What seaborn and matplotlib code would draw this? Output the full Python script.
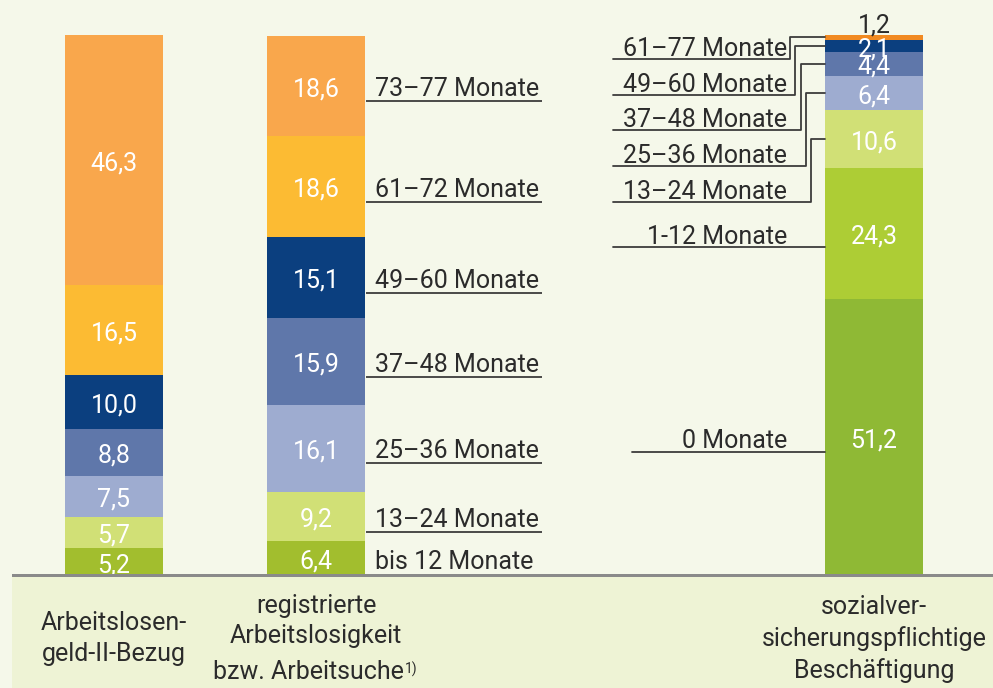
import matplotlib.pyplot as plt
import seaborn as sns
from matplotlib.patches import Rectangle

sns.set_theme(style='white')
plt.rcParams['font.family'] = ['Roboto', 'DejaVu Sans']

# Anteile in Prozent, jeweils von unten nach oben
alg2_values = [5.2, 5.7, 7.5, 8.8, 10.0, 16.5, 46.3]
arbeitslos_values = [6.4, 9.2, 16.1, 15.9, 15.1, 18.6, 18.6]
arbeitslos_labels = ['bis 12 Monate', '13–24 Monate', '25–36 Monate', '37–48 Monate',
                     '49–60 Monate', '61–72 Monate', '73–77 Monate']
beschaeftigung_values = [51.2, 24.3, 10.6, 6.4, 4.4, 2.1, 1.2]
beschaeftigung_labels = ['0 Monate', '1-12 Monate', '13–24 Monate', '25–36 Monate',
                         '37–48 Monate', '49–60 Monate', '61–77 Monate']

colors_main = ['#a2be2e', '#d1e076', '#9eacd0', '#5f77aa', '#0b3f7f', '#fcbb33', '#f9a74c']
colors_besch = ['#8fb935', '#adcd35', '#d1e076', '#9eacd0', '#5f77aa', '#0b3f7f', '#f18a22']

bg = '#f5f8ea'
text_col = '#2b2b2b'
line_col = '#3c3c3c'

fig = plt.figure(figsize=(9.93, 6.88), dpi=100, facecolor=bg)
ax = fig.add_axes([0, 112 / 688, 1, 541 / 688])
ax.set_facecolor('none')

bar_x = [114, 316, 874]
bar_w = 98
dy = -0.6  # small downward nudge for text

# Stacked bars
all_values = [alg2_values, arbeitslos_values, beschaeftigung_values]
all_colors = [colors_main, colors_main, colors_besch]
mids = []
for xc, vals, cols in zip(bar_x, all_values, all_colors):
    bottom = 0
    m = []
    for v, c in zip(vals, cols):
        sns.barplot(x=[xc], y=[v], bottom=bottom, color=c, width=bar_w, native_scale=True,
                    saturation=1, linewidth=0, errorbar=None, ax=ax)
        m.append(bottom + v / 2)
        bottom += v
    mids.append(m)

# Value labels
for xc, vals, m in zip(bar_x, all_values, mids):
    for v, y in zip(vals, m):
        ax.text(xc, y + dy, f'{v:.1f}'.replace('.', ','), color='white', fontsize=18,
                ha='center', va='center')
# 1,2 sits above the last bar in black
ax.texts[-1].remove()
ax.text(bar_x[2], sum(beschaeftigung_values) + 0.3, '1,2', color=text_col, fontsize=18,
        ha='center', va='baseline')

# Labels right of the second bar
for i, (lab, y) in enumerate(zip(arbeitslos_labels, mids[1])):
    ax.text(375, y + dy, lab, color=text_col, fontsize=18, ha='left', va='center')
    if i > 0:
        ax.plot([bar_x[1] + bar_w / 2 + 1, 542], [y - 2.8, y - 2.8], color=line_col, lw=1.3,
                solid_capstyle='butt')

# Labels left of the third bar
left3 = bar_x[2] - bar_w / 2
for i in range(2):
    y = mids[2][i]
    ax.text(787, y + dy, beschaeftigung_labels[i], color=text_col, fontsize=18, ha='right',
            va='center')
    ax.plot([632 if i == 0 else 613, left3], [y - 2.6, y - 2.6], color=line_col, lw=1.3)
for k in range(2, 7):
    y = 98.0 - (6 - k) * 6.6
    ax.text(787, y + dy, beschaeftigung_labels[k], color=text_col, fontsize=18, ha='right',
            va='center')
    vx = 811 - (k - 2) * 5.25
    ax.plot([613, vx, vx, left3], [y - 2.4, y - 2.4, mids[2][k], mids[2][k]],
            color=line_col, lw=1.3)

# Category labels below the baseline
ax.text(bar_x[0], -11.6, 'Arbeitslosen-\ngeld-II-Bezug', color=text_col, fontsize=18,
        ha='center', va='center', linespacing=1.35, clip_on=False)
ax.text(bar_x[1], -8.3, 'registrierte\nArbeitslosigkeit', color=text_col, fontsize=18,
        ha='center', va='center', linespacing=1.35, clip_on=False)
t = ax.text(bar_x[1] - 8, -17.8, 'bzw. Arbeitsuche', color=text_col, fontsize=18,
            ha='center', va='center', clip_on=False)
ax.annotate('1)', xy=(1, 1), xycoords=t, xytext=(1, -1), textcoords='offset points',
            fontsize=10, color=text_col, ha='left', va='top', annotation_clip=False)
ax.text(bar_x[2], -11.6, 'sozialver-\nsicherungspflichtige\nBeschäftigung', color=text_col,
        fontsize=18, ha='center', va='center', linespacing=1.35, clip_on=False)

ax.set_xlim(0, 993)
ax.set_ylim(0, 100)
ax.set_axis_off()

# Bottom panel and baseline
fig.add_artist(Rectangle((12 / 993, 0), 981 / 993, 112 / 688, transform=fig.transFigure,
                         facecolor='#eef3d5', edgecolor='none', zorder=-1))
fig.add_artist(Rectangle((12 / 993, 111 / 688), 981 / 993, 3 / 688, transform=fig.transFigure,
                         facecolor='#8a8a8a', edgecolor='none', zorder=2))

plt.savefig('out.png', dpi=100, facecolor=bg)
